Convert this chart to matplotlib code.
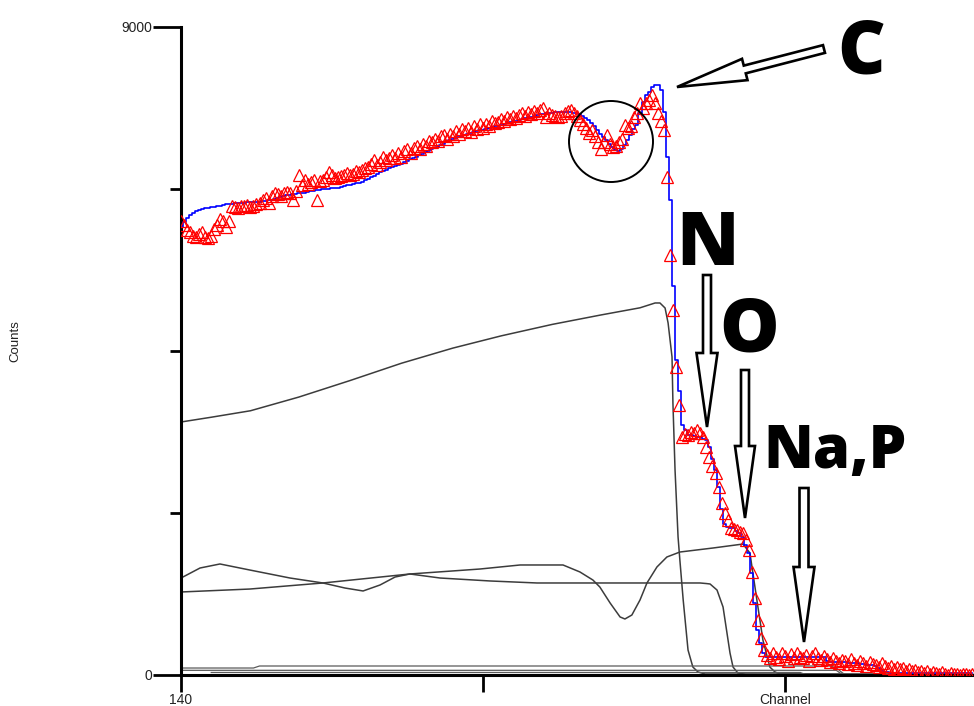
import matplotlib
matplotlib.use("Agg")
import matplotlib.pyplot as plt
from matplotlib.patches import FancyArrow, Ellipse
import numpy as np

# ---------------- data ----------------
first_channel = 140
last_channel = 402

# simulated total spectrum, one value per channel (140..402)
simulated = [
    6220, 6290, 6350, 6390, 6420, 6440, 6460, 6470, 6480, 6490,
    6500, 6505, 6510, 6520, 6525, 6535, 6540, 6545, 6550, 6555,
    6560, 6560, 6565, 6565, 6570, 6570, 6575, 6580, 6590, 6595,
    6600, 6610, 6625, 6640, 6650, 6660, 6670, 6680, 6685, 6690,
    6695, 6700, 6710, 6720, 6725, 6730, 6740, 6745, 6750, 6755,
    6760, 6765, 6770, 6780, 6790, 6800, 6810, 6820, 6830, 6840,
    6850, 6870, 6890, 6910, 6935, 6960, 6980, 7000, 7020, 7035,
    7050, 7065, 7080, 7100, 7120, 7140, 7160, 7180, 7200, 7220,
    7240, 7260, 7280, 7300, 7320, 7340, 7360, 7380, 7400, 7430,
    7445, 7460, 7475, 7490, 7505, 7520, 7530, 7545, 7555, 7565,
    7575, 7585, 7595, 7610, 7620, 7630, 7640, 7655, 7665, 7680,
    7690, 7700, 7715, 7725, 7735, 7745, 7755, 7765, 7780, 7790,
    7795, 7800, 7805, 7810, 7815, 7820, 7820, 7820, 7820, 7815,
    7810, 7805, 7790, 7765, 7740, 7705, 7665, 7620, 7570, 7520,
    7470, 7430, 7380, 7330, 7295, 7280, 7310, 7360, 7430, 7500,
    7580, 7640, 7800, 7960, 8050, 8100, 8170, 8190, 8190, 8120,
    7820, 7200, 6600, 5400, 4375, 3950, 3470, 3400, 3340, 3330,
    3320, 3310, 3300, 3280, 3260, 3170, 3000, 2850, 2610, 2300,
    2100, 2056, 2045, 2040, 2000, 1975, 1920, 1800, 1690, 1420,
    1000, 620, 440, 310, 250, 250, 250, 250, 250, 250,
    250, 250, 250, 250, 250, 250, 250, 250, 250, 250,
    250, 250, 250, 245, 200, 185, 180, 180, 180, 175,
    175, 170, 170, 165, 160, 155, 150, 145, 140, 140,
    120, 100, 70, 45, 35, 28, 28, 28, 28, 28,
    28, 28, 28, 28, 28, 28, 28, 28, 28, 28,
    28, 28, 28, 28, 28, 28, 28, 28, 28, 28,
    28, 28, 28,
]

# measured spectrum, one value per channel (140..402)
measured = [
    6300, 6250, 6180, 6150, 6100, 6090, 6120, 6150, 6080, 6070,
    6100, 6200, 6250, 6340, 6300, 6220, 6300, 6520, 6500, 6480,
    6520, 6510, 6530, 6500, 6520, 6540, 6560, 6600, 6620, 6560,
    6650, 6700, 6680, 6650, 6700, 6710, 6690, 6600, 6720, 6950,
    6800, 6880, 6820, 6850, 6870, 6600, 6860, 6880, 6920, 6990,
    6950, 6900, 6920, 6930, 6950, 6970, 6940, 6960, 7000, 6980,
    7010, 7040, 7060, 7100, 7150, 7080, 7120, 7200, 7150, 7180,
    7220, 7180, 7250, 7200, 7280, 7300, 7250, 7320, 7350, 7300,
    7380, 7350, 7420, 7400, 7450, 7420, 7480, 7500, 7450, 7520,
    7480, 7550, 7520, 7580, 7560, 7600, 7540, 7620, 7580, 7650,
    7600, 7650, 7620, 7700, 7660, 7680, 7720, 7700, 7750, 7720,
    7760, 7740, 7780, 7800, 7770, 7820, 7790, 7840, 7810, 7850,
    7870, 7750, 7800, 7780, 7760, 7750, 7760, 7800, 7830, 7850,
    7800, 7760, 7710, 7650, 7600, 7530, 7570, 7480, 7400, 7300,
    7400, 7500, 7380, 7330, 7350, 7400, 7450, 7640, 7600, 7620,
    7750, 7800, 7940, 7880, 7950, 7990, 8060, 7950, 7810, 7700,
    7570, 6920, 5830, 5070, 4280, 3750, 3310, 3350, 3330, 3380,
    3360, 3400, 3360, 3300, 3170, 3030, 2900, 2810, 2610, 2390,
    2250, 2150, 2040, 2030, 2014, 1990, 1970, 1875, 1736, 1431,
    1069, 764, 514, 347, 280, 230, 300, 250, 220, 310,
    260, 200, 290, 240, 310, 250, 230, 280, 200, 260,
    300, 240, 210, 270, 220, 180, 230, 200, 160, 210,
    190, 150, 220, 170, 140, 200, 160, 130, 180, 150,
    140, 110, 160, 120, 100, 130, 90, 110, 80, 100,
    60, 90, 50, 70, 40, 60, 30, 50, 20, 40,
    30, 10, 40, 20, 0, 30, 10, 20, 0, 10,
    20, 0, 10,
]

# partial (single element) spectra as (channel, counts) knots
major_ch = [140, 150, 163, 179, 196, 213, 230, 246, 263, 279, 292, 297, 298.6,
            300.3, 301.3, 302.6, 302.9, 303.6, 304.6, 305.2, 306.3, 307.9,
            309.5, 311.2, 313.5, 402.6]
major_counts = [3514, 3580, 3670, 3860, 4090, 4330, 4540, 4710, 4870, 5000,
                5100, 5167, 5167, 5097, 4889, 4417, 3778, 2847, 1917, 1597,
                1042, 347, 111, 42, 14, 5]

nitrogen_ch = [140, 146.3, 152.9, 162.8, 176.1, 187, 194.3, 200.3, 205.9,
               210.9, 215.8, 225.8, 242.3, 257.9, 311.9, 314, 315.2, 317.5,
               319.5, 320.8, 321.8, 322.8, 324.4, 327, 402.6]
nitrogen_counts = [1347, 1486, 1542, 1458, 1347, 1278, 1208, 1167, 1250,
                   1361, 1403, 1347, 1306, 1278, 1278, 1270, 1264, 1180,
                   944, 583, 306, 111, 28, 10, 5]

oxygen_ch = [140, 162.8, 187, 215.8, 239, 252.3, 266.5, 272.1, 276.4, 278.7,
             282.1, 285.4, 287, 289.3, 292, 294.3, 297.6, 300.9, 305.2,
             316.2, 326.1, 328.4, 330.7, 332.7, 335, 336.7, 338.3, 402.6]
oxygen_counts = [1153, 1194, 1278, 1403, 1472, 1528, 1528, 1431, 1319, 1222,
                 1000, 806, 778, 833, 1042, 1278, 1500, 1639, 1708, 1764,
                 1819, 1694, 1042, 486, 111, 42, 14, 5]

trace1_ch = [140, 164, 166, 355, 357, 359, 360, 402.6]
trace1_counts = [97, 97, 125, 125, 100, 30, 5, 5]
trace2_ch = [140, 357, 359, 402.6]
trace2_counts = [65, 65, 5, 5]
trace3_ch = [150, 345, 347, 402.6]
trace3_counts = [35, 35, 3, 3]

y_ticks = [0, 9000]
y_minor_ticks = [2250, 4500, 6750]
x_ticks = [140, 240, 340]
x_tick_labels = ["140", "", "Channel"]

# ---------------- figure ----------------
W, H = 974, 706
fig = plt.figure(figsize=(W / 100, H / 100), dpi=100)
ax = fig.add_axes([181 / W, 31 / H, 793 / W, 648 / H])

channels = np.arange(first_channel, last_channel + 1)

partial_style = dict(color="#3c3c3c", lw=1.1, zorder=2)
ax.plot(major_ch, major_counts, **partial_style)
ax.plot(nitrogen_ch, nitrogen_counts, **partial_style)
ax.plot(oxygen_ch, oxygen_counts, **partial_style)
ax.plot(trace1_ch, trace1_counts, color="#5a5a5a", lw=0.9, zorder=2)
ax.plot(trace2_ch, trace2_counts, color="#5a5a5a", lw=0.9, zorder=2)
ax.plot(trace3_ch, trace3_counts, color="#5a5a5a", lw=0.9, zorder=2)

ax.plot(channels, simulated, drawstyle="steps-mid", color="#0000ff",
        lw=1.2, zorder=3)
ax.plot(channels, measured, ls="none", marker="^", mfc="none",
        mec="#ff0000", ms=8.5, mew=0.9, zorder=4)

ax.set_xlim(140, 402.6)
ax.set_ylim(0, 9000)

for side in ("top", "right"):
    ax.spines[side].set_visible(False)
for side in ("left", "bottom"):
    ax.spines[side].set_linewidth(2.2)
    ax.spines[side].set_color("black")

tick_font = dict(family="Liberation Sans", size=10, color="#222222")
ax.set_yticks(y_ticks)
ax.set_yticklabels([str(v) for v in y_ticks], **tick_font)
ax.set_yticks(y_minor_ticks, minor=True)
ax.tick_params(axis="y", which="major", length=20, width=2, direction="out", pad=1)
ax.tick_params(axis="y", which="minor", length=8, width=2, direction="out")
ax.set_xticks(x_ticks)
ax.set_xticklabels(x_tick_labels, **tick_font)
ax.tick_params(axis="x", which="major", length=12, width=2, direction="out", pad=1)

fig.text(15 / W, 1 - 341 / H, "Counts", rotation=90, ha="center", va="center",
         family="Liberation Sans", size=9.5, color="#222222")


# ---------------- annotations (pixel geometry) ----------------
def px(x, y):
    return x / 100.0, (H - y) / 100.0


def hollow_arrow(tail, tip, shaft, head_w, head_l):
    x0, y0 = px(*tail)
    x1, y1 = px(*tip)
    arr = FancyArrow(x0, y0, x1 - x0, y1 - y0, width=shaft / 100.0,
                     head_width=head_w / 100.0, head_length=head_l / 100.0,
                     length_includes_head=True, transform=fig.dpi_scale_trans,
                     fc="white", ec="black", lw=1.9, zorder=10)
    fig.add_artist(arr)


hollow_arrow((824, 49), (677, 87), 8, 22, 70)
hollow_arrow((707, 275), (707, 427), 8, 21, 74)
hollow_arrow((745, 370), (745, 518), 8, 20, 72)
hollow_arrow((804, 488), (804, 642), 9, 21, 75)

cx, cy = px(611, 141.5)
fig.add_artist(Ellipse((cx, cy), 0.84, 0.81, fill=False, ec="black", lw=1.4,
                       transform=fig.dpi_scale_trans, zorder=10))

label_font = dict(family="Open Sans", weight="heavy", color="black",
                  ha="center", va="baseline")
fig.text(861 / W, 1 - 73 / H, "C", size=53, **label_font)
fig.text(708 / W, 1 - 265 / H, "N", size=54, **label_font)
fig.text(749 / W, 1 - 352 / H, "O", size=54, **label_font)
fig.text(835 / W, 1 - 468 / H, "Na,P", size=43, **label_font)

fig.savefig("out.png", dpi=100)
